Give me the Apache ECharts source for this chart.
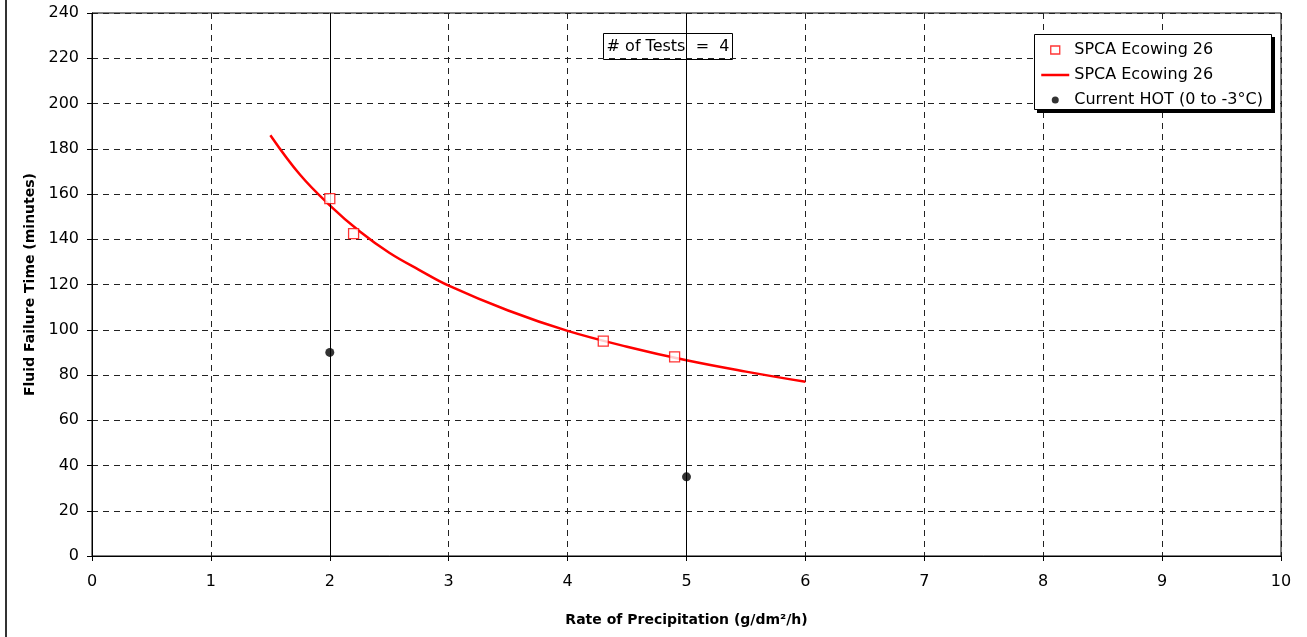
<!DOCTYPE html>
<html>
<head>
<meta charset="utf-8">
<script src="https://cdn.jsdelivr.net/npm/echarts@6/dist/echarts.min.js"></script>
<style>
  html, body { margin: 0; padding: 0; background: #fff; }
  #chart { width: 1307px; height: 637px; }
</style>
</head>
<body>
<div id="chart"></div>
<script>
// ---- data ----
const xTitle = 'Rate of Precipitation (g/dm²/h)';
const yTitle = 'Fluid Failure Time (minutes)';
const seriesNames = ['SPCA Ecowing 26', 'SPCA Ecowing 26 ', 'Current HOT (0 to -3°C)'];
const legendLabels = ['SPCA Ecowing 26', 'SPCA Ecowing 26', 'Current HOT (0 to -3°C)'];
// measured test points
const testX = [2.0, 2.2, 4.3, 4.9];
const testY = [158, 142.5, 95, 88];
// trend curve
const curveX = [1.5, 1.75, 2.0, 2.25, 2.5, 2.75, 3.0, 3.5, 4.0, 4.5, 5.0, 5.5, 6.0];
const curveY = [186, 168.5, 155, 143.5, 134, 126.5, 119.5, 108.5, 99.5, 92.5, 86.5, 81.5, 77];
// current holdover time points
const hotX = [2, 5];
const hotY = [90, 35];
// vertical reference lines at the HOT rates
const refLinesX = [2, 5];
const testsNote = '# of Tests  =  4';

const FONT = 'DejaVu Sans';
const chart = echarts.init(document.getElementById('chart'), null, { renderer: 'canvas' });

const zip = (a, b) => a.map((v, i) => [v, b[i]]);

const gridLine = { show: true, lineStyle: { type: [6, 5], color: '#222', width: 1 } };

// legend icons (bounding box 28x9, mark drawn in the middle)
const ICON_SQUARE = 'path://M0,0M28,9M9.5,0.5h9v8h-9z';
const ICON_LINE = 'path://M0,0M28,9M0,4.5L28,4.5';
const ICON_DOT = 'path://M0,0M28,9M10.5,4.5A3.5,3.5 0 1,0 17.5,4.5A3.5,3.5 0 1,0 10.5,4.5Z';

chart.setOption({
  animation: false,
  backgroundColor: '#fff',
  textStyle: { fontFamily: FONT, color: '#000' },
  grid: {
    left: 92, right: 26, top: 13, bottom: 81,
    show: true, borderColor: '#000', borderWidth: 1, backgroundColor: 'transparent'
  },
  xAxis: {
    type: 'value', min: 0, max: 10, interval: 1,
    name: xTitle, nameLocation: 'middle', nameGap: 57,
    nameTextStyle: { fontFamily: FONT, fontWeight: 'bold', fontSize: 14, color: '#000' },
    axisLine: { show: true, lineStyle: { color: '#000', width: 1 } },
    axisTick: { show: true, inside: false, length: 5, lineStyle: { color: '#000' } },
    axisLabel: { fontFamily: FONT, fontSize: 16, color: '#000', margin: 18 },
    splitLine: gridLine
  },
  yAxis: {
    type: 'value', min: 0, max: 240, interval: 20,
    name: yTitle, nameLocation: 'middle', nameGap: 55, nameRotate: 90,
    nameTextStyle: { fontFamily: FONT, fontWeight: 'bold', fontSize: 14, color: '#000' },
    axisLine: { show: true, lineStyle: { color: '#000', width: 1 } },
    axisTick: { show: true, inside: false, length: 5, lineStyle: { color: '#000' } },
    axisLabel: { fontFamily: FONT, fontSize: 16, color: '#000', margin: 13 },
    splitLine: gridLine
  },
  legend: {
    orient: 'vertical', left: 1034, top: 35,
    align: 'left',
    padding: [7, 8, 4, 6],
    itemGap: 9, itemWidth: 28, itemHeight: 9,
    symbolKeepAspect: false,
    textStyle: { fontFamily: FONT, fontSize: 16, color: '#000' },
    formatter: (name) => legendLabels[seriesNames.indexOf(name)],
    data: [
      { name: seriesNames[0], icon: ICON_SQUARE, itemStyle: { color: '#fff', borderColor: '#ff0000', borderWidth: 1.3 } },
      { name: seriesNames[1], icon: ICON_LINE, itemStyle: { color: 'transparent', borderColor: '#ff0000', borderWidth: 2.5 } },
      { name: seriesNames[2], icon: ICON_DOT, itemStyle: { color: '#000', borderColor: '#000', borderWidth: 0 } }
    ]
  },
  series: [
    {
      name: seriesNames[1], type: 'line', data: zip(curveX, curveY),
      smooth: 0.4, showSymbol: false, symbol: 'none',
      lineStyle: { color: '#ff0000', width: 2.5 }, itemStyle: { color: '#ff0000' },
      z: 3
    },
    {
      name: seriesNames[2], type: 'scatter', data: zip(hotX, hotY),
      symbol: 'circle', symbolSize: 9,
      itemStyle: { color: '#000' },
      markLine: {
        silent: true, symbol: ['none', 'none'], label: { show: false },
        lineStyle: { type: 'solid', color: '#000', width: 1 },
        data: refLinesX.map(v => ({ xAxis: v }))
      },
      z: 4
    },
    {
      name: seriesNames[0], type: 'scatter', data: zip(testX, testY),
      symbol: 'rect', symbolSize: 10,
      itemStyle: { color: '#fff', borderColor: '#ff0000', borderWidth: 1.3 },
      z: 5
    }
  ],
  graphic: [
    { type: 'line', shape: { x1: 6, y1: 0, x2: 6, y2: 637 }, style: { stroke: '#333', lineWidth: 2 }, z: 10 },
    // legend frame with drop shadow
    { type: 'rect', shape: { x: 1037, y: 37, width: 238, height: 76 }, style: { fill: '#000' }, z: 1 },
    { type: 'rect', shape: { x: 1034.5, y: 34.5, width: 237, height: 75 }, style: { fill: '#fff', stroke: '#000', lineWidth: 1 }, z: 2 },
    {
      type: 'group', left: 603, top: 33, z: 10,
      children: [
        { type: 'rect', shape: { x: 0.5, y: 0.5, width: 129, height: 26 }, style: { fill: '#fff', stroke: '#000', lineWidth: 1 } },
        { type: 'text', x: 65, y: 14, style: { text: testsNote, font: '16px "DejaVu Sans"', fill: '#000', align: 'center', verticalAlign: 'middle' } }
      ]
    }
  ]
});
</script>
</body>
</html>
